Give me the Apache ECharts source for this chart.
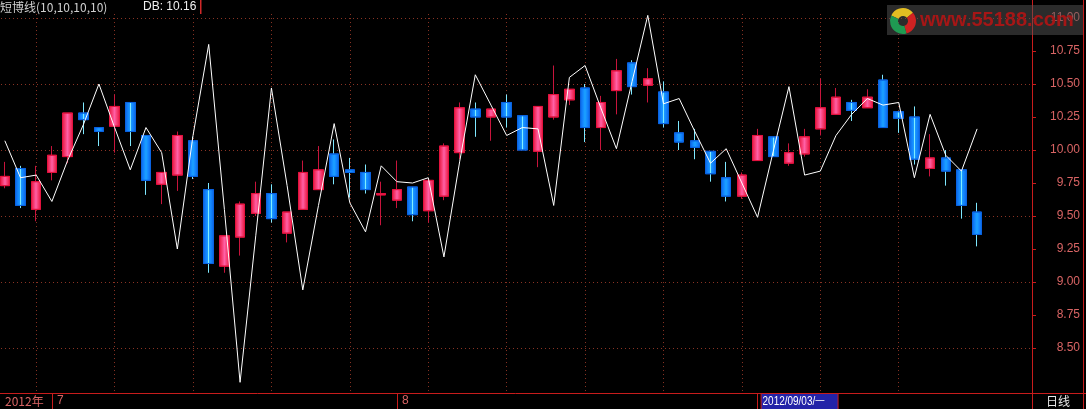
<!DOCTYPE html>
<html><head><meta charset="utf-8">
<script src="https://cdn.jsdelivr.net/npm/echarts@6/dist/echarts.min.js"></script>
<style>html,body{margin:0;padding:0;background:#000;}#c{width:1086px;height:409px;}</style>
</head><body><div id="c"></div>
<script>
// ---- data ----
const dates = ['06-27','06-28','06-29',
 '07-02','07-03','07-04','07-05','07-06','07-09','07-10','07-11','07-12','07-13',
 '07-16','07-17','07-18','07-19','07-20','07-23','07-24','07-25','07-26','07-27','07-30','07-31',
 '08-01','08-02','08-03','08-06','08-07','08-08','08-09','08-10','08-13','08-14','08-15','08-16','08-17',
 '08-20','08-21','08-22','08-23','08-24','08-27','08-28','08-29','08-30','08-31',
 '09-03','09-04','09-05','09-06','09-07','09-10','09-11','09-12','09-13','09-14','09-17','09-18','09-19','09-20','09-21'];
const opens  = [9.73,9.86,9.55,9.83,9.95,10.28,10.17,10.18,10.36,10.11,9.74,9.81,10.07,9.70,9.12,9.34,9.52,9.67,9.37,9.55,9.70,9.97,9.85,9.83,9.66,
 9.62,9.72,9.54,9.65,9.98,10.31,10.25,10.36,10.26,9.99,10.25,10.38,10.47,10.17,10.45,10.66,10.49,10.44,10.13,10.07,9.99,9.79,9.65,
 9.92,10.10,9.90,9.97,10.16,10.27,10.36,10.32,10.53,10.29,10.25,9.86,9.94,9.85,9.53];
const closes = [9.80,9.58,9.76,9.96,10.28,10.23,10.14,10.33,10.14,9.77,9.83,10.11,9.80,9.14,9.35,9.59,9.67,9.48,9.53,9.83,9.85,9.80,9.83,9.70,9.67,
 9.70,9.51,9.77,10.03,10.32,10.25,10.31,10.25,10.00,10.33,10.42,10.46,10.17,10.36,10.60,10.48,10.54,10.20,10.06,10.02,9.82,9.65,9.81,
 10.11,9.95,9.98,10.10,10.32,10.40,10.30,10.40,10.17,10.24,9.93,9.94,9.84,9.58,9.36];
const lows   = [9.71,9.56,9.46,9.77,9.90,10.12,10.03,9.98,10.03,9.66,9.59,9.69,9.78,9.07,9.07,9.20,9.50,9.45,9.30,9.55,9.70,9.74,9.64,9.67,9.43,
 9.56,9.46,9.45,9.62,9.93,10.10,10.07,10.17,10.00,9.87,10.23,10.34,10.06,10.00,10.27,10.42,10.36,10.17,10.00,9.93,9.76,9.61,9.63,
 9.92,9.95,9.88,9.95,10.11,10.27,10.22,10.32,10.17,10.13,9.89,9.80,9.73,9.48,9.27];
const highs  = [9.91,9.88,9.88,10.03,10.28,10.36,10.17,10.42,10.36,10.11,9.83,10.14,10.10,9.75,9.35,9.61,9.76,9.74,9.53,9.92,10.03,10.08,9.94,9.89,9.76,
 9.92,9.72,9.77,10.05,10.36,10.36,10.31,10.42,10.26,10.33,10.64,10.46,10.50,10.41,10.69,10.68,10.62,10.52,10.22,10.16,9.99,9.91,9.83,
 10.16,10.10,10.05,10.16,10.54,10.47,10.38,10.46,10.57,10.29,10.33,10.12,10.00,9.85,9.60];
const dbLine = [10.07,9.79,9.81,9.61,9.92,10.19,10.50,10.17,9.85,10.17,9.98,9.25,10.11,10.80,9.55,8.24,9.35,10.47,9.73,8.94,9.58,10.20,9.60,9.38,9.88,
 9.76,9.75,9.79,9.19,9.91,10.57,10.34,10.11,10.17,10.16,9.58,10.55,10.64,10.32,10.01,10.52,11.02,10.35,10.39,10.14,9.90,10.01,9.75,
 9.49,9.99,10.48,9.81,9.84,10.11,10.27,10.39,10.34,10.36,9.79,10.27,9.96,9.84,10.16];
const padCats = [' ', '  ', '   '];
const weekEnds = ['06-29','07-06','07-13','07-20','07-27','08-03','08-10','08-17','08-24','08-31','09-07','09-14'];
const yTicks = [8.5,8.75,9.0,9.25,9.5,9.75,10.0,10.25,10.5,10.75,11.0];
const yearLabel = '2012年';
const cursorDate = '09-03';
const cursorLabel = '2012/09/03/一';
const indicatorName = '短博线(10,10,10,10)';
const periodLabel = '日线';

// ---- chart ----
const cats = dates.concat(padCats);
const chart = echarts.init(document.getElementById('c'), null, {renderer: 'canvas'});
const RED = '#c81c1c';
const GRID = '#8a3324';
const LABEL = '#d86464';
const FONT = '"Liberation Sans", Arial, sans-serif';
const CJK = '"Noto Sans CJK SC", "Liberation Sans", sans-serif';

const upFill = new echarts.graphic.LinearGradient(0,0,1,0,[
  {offset:0,color:'#e3123e'},{offset:0.28,color:'#f63d72'},{offset:0.5,color:'#ff60a6'},{offset:0.72,color:'#f63d72'},{offset:1,color:'#e3123e'}]);
const downFill = new echarts.graphic.LinearGradient(0,0,1,0,[
  {offset:0,color:'#0a62e0'},{offset:0.3,color:'#1488ff'},{offset:0.45,color:'#1a9cff'},{offset:0.5,color:'#80ecff'},{offset:0.55,color:'#1a9cff'},{offset:0.7,color:'#1488ff'},{offset:1,color:'#0a62e0'}]);

const isMonthStart = (idx) => idx > 0 && idx < dates.length && dates[idx].slice(0,2) !== dates[idx-1].slice(0,2);

chart.setOption({
  backgroundColor: '#000000',
  animation: false,
  grid: [
    {left: -3, width: 1035, top: -15, height: 429, outerBoundsMode: 'none', containLabel: false},
    {left: -3, width: 1035, top: 380, height: 13, outerBoundsMode: 'none', containLabel: false}
  ],
  xAxis: [
    {type: 'category', gridIndex: 0, data: cats, show: false, boundaryGap: true},
    {type: 'category', gridIndex: 1, data: cats, boundaryGap: true,
     axisLine: {show: true, lineStyle: {color: RED, width: 1}},
     axisTick: {show: true, alignWithLabel: true, length: 16, inside: false,
       interval: (i) => isMonthStart(i), lineStyle: {color: RED, width: 1}},
     axisLabel: {show: true, interval: (i) => isMonthStart(i), align: 'left', verticalAlign: 'middle',
       margin: 8, padding: [0,0,0,5], color: LABEL, fontSize: 12, fontFamily: FONT,
       formatter: (v) => String(parseInt(v.slice(0,2), 10))},
     splitLine: {show: false}}
  ],
  yAxis: [
    {type: 'value', gridIndex: 0, position: 'right', min: 8, max: 11.25, interval: 0.25,
     axisLine: {show: true, lineStyle: {color: RED, width: 1}},
     axisTick: {show: true, length: 4, inside: false, customValues: yTicks, lineStyle: {color: RED}},
     axisLabel: {show: true, customValues: yTicks, align: 'right', margin: 48, color: LABEL, fontSize: 12, fontFamily: FONT,
       formatter: (v) => (v < 8.4 || v > 11.1) ? '' : v.toFixed(2)},
     splitLine: {show: false}},
    {type: 'value', gridIndex: 0, position: 'left', min: 8, max: 11.25, interval: 0.5,
     axisLine: {show: false}, axisTick: {show: false}, axisLabel: {show: false},
     splitLine: {show: true, lineStyle: {color: GRID, type: [1, 3], width: 1}}},
    {type: 'value', gridIndex: 1, show: false}
  ],
  series: [
    {name: 'wick', type: 'candlestick', xAxisIndex: 0, yAxisIndex: 0, z: 3, barWidth: 1,
     data: dates.map((d, i) => [opens[i], closes[i], lows[i], highs[i]]),
     itemStyle: {color: '#c8143c', color0: '#7ee8ff', borderColor: '#c8143c', borderColor0: '#7ee8ff', borderWidth: 1},
     emphasis: {disabled: true}, silent: true},
    {name: 'body', type: 'candlestick', xAxisIndex: 0, yAxisIndex: 0, z: 4, barWidth: 10,
     data: dates.map((d, i) => [opens[i], closes[i], Math.min(opens[i], closes[i]), Math.max(opens[i], closes[i])]),
     itemStyle: {color: upFill, color0: downFill, borderColor: '#e3123e', borderColor0: '#0a62e0', borderWidth: 1},
     emphasis: {disabled: true}, silent: true},
    {name: 'DB', type: 'line', xAxisIndex: 0, yAxisIndex: 0, z: 6, data: dbLine, symbol: 'none', smooth: false,
     lineStyle: {color: '#ffffff', width: 1}, silent: true,
     markLine: {z: 1, silent: true, symbol: ['none', 'none'], label: {show: false},
       lineStyle: {color: GRID, type: [1, 3], width: 1},
       data: weekEnds.map(d => [{xAxis: d, yAxis: 11.03}, {xAxis: d, yAxis: 8.16}])}}
  ]
});

const cx = chart.convertToPixel({xAxisIndex: 1, yAxisIndex: 2}, [cursorDate, 0])[0];
const dbLast = dbLine[dbLine.length - 1];
chart.setOption({
  graphic: [
    {type: 'text', x: 0, y: 7, z: 100, style: {text: indicatorName, fill: '#cfcfcf', font: '12px ' + CJK, textVerticalAlign: 'middle'}},
    {type: 'text', x: 143, y: 7, z: 100, style: {text: 'DB: ' + dbLast.toFixed(2), fill: '#f0f0f0', font: '12px ' + FONT, textVerticalAlign: 'middle'}},
    {type: 'rect', z: 100, shape: {x: 200, y: 0, width: 1.5, height: 14}, style: {fill: '#d02828'}},
    {type: 'line', z: 100, shape: {x1: 1083.5, y1: 0, x2: 1083.5, y2: 409}, style: {stroke: RED, lineWidth: 1}},
    {type: 'line', z: 100, shape: {x1: 1032, y1: 393.5, x2: 1086, y2: 393.5}, style: {stroke: RED, lineWidth: 1}},
    {type: 'text', x: 1058, y: 401, z: 100, style: {text: periodLabel, fill: '#e8e8e8', font: '12px ' + CJK, textAlign: 'center', textVerticalAlign: 'middle'}},
    {type: 'text', x: 5, y: 401, z: 100, style: {text: yearLabel, fill: LABEL, font: '12px ' + CJK, textVerticalAlign: 'middle'}},
    {type: 'rect', z: 100, shape: {x: cx + 3.5, y: 393.5, width: 77, height: 16}, style: {fill: '#2323a8', stroke: RED, lineWidth: 1}},
    {type: 'text', x: cx + 5, y: 401.5, z: 101, scaleX: 0.83, style: {text: cursorLabel, fill: '#ffffff', font: '12px ' + FONT, textVerticalAlign: 'middle'}},
    // watermark
    {type: 'rect', z: 100, shape: {x: 887, y: 5, width: 196, height: 30}, style: {fill: 'rgba(85,85,85,0.5)'}},
    {type: 'sector', z: 101, shape: {cx: 903, cy: 21, r: 13, r0: 5, startAngle: -2.7, endAngle: -0.7}, style: {fill: '#e2bd22'}},
    {type: 'sector', z: 101, shape: {cx: 903, cy: 21, r: 13, r0: 5, startAngle: -0.7, endAngle: 1.3}, style: {fill: '#cf2222'}},
    {type: 'sector', z: 101, shape: {cx: 903, cy: 21, r: 13, r0: 5, startAngle: 1.3, endAngle: 3.58}, style: {fill: '#1f9a52'}},
    {type: 'text', x: 920, y: 20, z: 101, style: {text: 'www.55188.com', fill: '#a51616', font: 'bold 20px ' + FONT, textVerticalAlign: 'middle'}}
  ]
});
</script></body></html>
